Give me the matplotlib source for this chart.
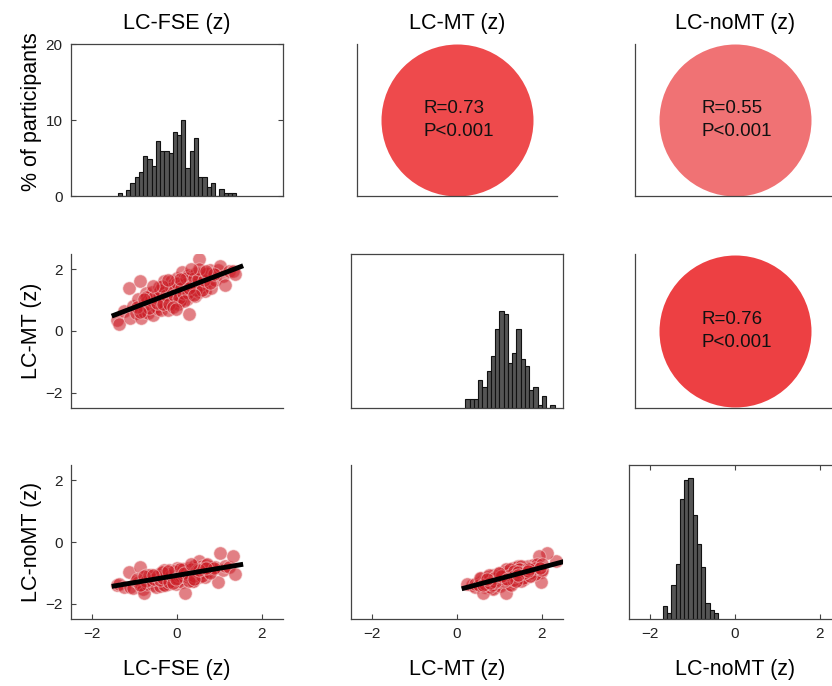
import numpy as np
import matplotlib.pyplot as plt

plt.rcParams['font.family'] = ['Liberation Sans', 'DejaVu Sans']

# z-scores per participant, estimated from the scatter clouds
lc_fse = [-1.42, -1.37, -1.25, -1.14, -1.10, -1.03, -0.97, -0.93, -0.88, -0.85,
          -0.80, -0.77, -0.74, -0.70, -0.68, -0.64, -0.61, -0.58, -0.56, -0.53,
          -0.50, -0.48, -0.45, -0.43, -0.41, -0.38, -0.36, -0.34, -0.31, -0.29,
          -0.27, -0.25, -0.22, -0.20, -0.18, -0.16, -0.14, -0.12, -0.10, -0.08,
          -0.06, -0.04, -0.02, 0.00, 0.02, 0.03, 0.05, 0.07, 0.09, 0.11,
          0.12, 0.14, 0.16, 0.18, 0.20, 0.22, 0.24, 0.26, 0.28, 0.30,
          0.33, 0.35, 0.38, 0.40, 0.43, 0.45, 0.48, 0.51, 0.53, 0.56,
          0.59, 0.62, 0.66, 0.69, 0.73, 0.77, 0.81, 0.86, 0.90, 0.96,
          1.02, 1.08, 1.14, 1.22, 1.31, 1.36, -0.30, -0.15, 0.01, 0.13,
          0.25, 0.37, -0.62, 0.55, -0.05, 0.19, -0.42, 0.47, 0.08, -0.24,
          -0.95, -0.72, -0.66, -0.55, -0.47, -0.40, -0.33, -0.26, -0.19, -0.13,
          -0.07, -0.01, 0.04, 0.10, 0.15, 0.21, 0.27, 0.32, 0.39, 0.44,
          0.50, 0.58, 0.64, 0.71, 0.79, 0.88, -0.87, -0.78, -0.35, -0.09,
          0.06, 0.17, 0.29, 0.41, 0.52, -0.57, -0.21, 0.34, -0.03, 0.68]
lc_mt = [0.36, 0.23, 0.65, 1.39, 0.42, 0.82, 0.59, 1.03, 1.62, 0.42,
         0.85, 0.62, 1.23, 0.98, 0.57, 1.14, 0.85, 1.27, 0.53, 1.03,
         0.79, 1.20, 0.71, 1.42, 1.01, 0.67, 1.22, 0.95, 1.62, 0.83,
         1.19, 1.42, 0.67, 1.18, 1.42, 1.00, 1.61, 0.87, 1.34, 1.12,
         1.56, 1.00, 1.25, 1.72, 0.87, 1.46, 1.15, 1.58, 1.24, 1.90,
         1.05, 1.44, 1.71, 1.16, 1.40, 1.61, 1.05, 1.83, 0.55, 1.56,
         1.32, 1.78, 1.25, 1.68, 1.13, 1.89, 1.52, 1.27, 2.34, 1.65,
         1.44, 1.88, 1.30, 1.80, 1.62, 1.98, 1.41, 1.86, 1.66, 1.99,
         2.12, 1.78, 1.50, 1.96, 1.94, 1.85, 1.28, 1.21, 1.10, 1.56,
         1.28, 1.52, 1.00, 1.49, 1.33, 1.52, 1.13, 1.60, 0.98, 1.09,
         0.77, 1.12, 0.76, 1.10, 0.92, 1.32, 0.88, 1.18, 0.89, 1.39,
         1.18, 1.55, 1.06, 1.40, 1.24, 1.72, 1.24, 1.47, 1.71, 1.34,
         1.70, 1.34, 1.67, 1.88, 1.57, 1.84, 0.62, 1.03, 1.45, 0.79,
         1.69, 0.98, 1.40, 1.17, 2.01, 1.45, 1.67, 2.01, 0.70, 1.96]
lc_nomt = [-1.40, -1.36, -1.47, -0.98, -1.46, -1.48, -1.25, -1.31, -0.82, -1.37,
           -1.53, -1.64, -1.08, -1.35, -1.18, -1.21, -1.07, -1.28, -1.41, -1.10,
           -1.47, -1.13, -1.15, -1.14, -1.44, -1.23, -0.96, -1.23, -0.91, -1.38,
           -1.23, -1.02, -1.37, -0.91, -1.22, -1.09, -1.02, -1.26, -1.26, -0.98,
           -1.09, -1.13, -1.37, -0.84, -1.27, -1.15, -0.89, -1.21, -1.03, -0.90,
           -1.31, -0.89, -1.09, -1.64, -0.94, -1.15, -1.03, -0.84, -1.16, -1.08,
           -0.85, -0.95, -1.28, -0.78, -1.09, -1.00, -0.80, -1.14, -0.63, -1.00,
           -0.78, -0.96, -1.15, -0.74, -0.95, -0.98, -0.81, -0.87, -0.82, -1.31,
           -0.36, -0.90, -0.78, -0.82, -0.44, -1.04, -1.41, -1.15, -1.07, -0.95,
           -1.13, -1.27, -1.22, -0.88, -1.17, -0.97, -1.04, -0.98, -1.00, -1.08,
           -1.21, -1.27, -1.08, -1.21, -1.10, -1.24, -1.17, -1.00, -1.30, -1.06,
           -0.95, -1.18, -1.11, -1.10, -0.89, -1.02, -1.07, -0.87, -1.10, -0.95,
           -0.88, -1.12, -0.86, -0.73, -1.00, -0.85, -1.39, -1.11, -0.99, -1.34,
           -0.88, -1.02, -1.26, -1.19, -0.90, -1.08, -0.93, -0.73, -1.19, -0.86]

# histograms: % of participants in 0.1-wide bins
bin_width = 0.1
fse_bin_start = -1.4
fse_pct = [0.44, 0, 0.79, 1.67, 2.46, 3.2, 5.26, 4.82, 3.95, 7.24, 5.96, 5.96, 5.61, 8.42,
           8.03, 10.0, 3.64, 5.96, 7.59, 2.46, 2.46, 1.23, 1.75, 0, 0.88, 0.44, 0.44, 0.44]
mt_bin_start = 0.2
mt_pct = [1.17, 1.17, 1.17, 3.6, 2.7, 4.76, 6.7, 10.3, 12.6, 12.2, 5.9, 7.1, 10.2, 6.3,
          5.5, 2.4, 2.7, 0.43, 1.6, 0, 0.43]
nomt_bin_start = -1.7
nomt_pct = [1.66, 0.79, 4.4, 7.2, 15.6, 18.0, 18.3, 13.5, 9.7, 6.8, 2.05, 1.22, 0.79]

names = ['LC-FSE (z)', 'LC-MT (z)', 'LC-noMT (z)']
corr_r = [0.73, 0.55, 0.76]       # FSE-MT, FSE-noMT, MT-noMT
corr_p = ['<0.001', '<0.001', '<0.001']
circle_colors = ['#ee4a4c', '#f07274', '#ed4043']

W, H = 832, 686
fig = plt.figure(figsize=(W / 100, H / 100), dpi=100)

col_left = [71, 351, 629]
col_w = 212
row_top = [44, 254, 465]
row_h = [152, 154, 154]
axis_col = '#444444'


def add_ax(r, c, inset=0):
    return fig.add_axes([(col_left[c] + inset) / W, (H - row_top[r] - row_h[r]) / H,
                         (col_w - 2 * inset) / W, row_h[r] / H])


def style(ax, box):
    for s in ax.spines.values():
        s.set_color(axis_col)
        s.set_linewidth(0.9)
    if not box:
        ax.spines['top'].set_visible(False)
        ax.spines['right'].set_visible(False)
    ax.tick_params(direction='in', length=3.5, width=0.8, color=axis_col,
                   labelsize=11, labelcolor='#222222', pad=6)
    ax.set_xticks([])
    ax.set_yticks([])


data = [lc_fse, lc_mt, lc_nomt]
hists = [(fse_bin_start, fse_pct), (mt_bin_start, mt_pct), (nomt_bin_start, nomt_pct)]
circ = {(0, 1): 0, (0, 2): 1, (1, 2): 2}

for r in range(3):
    for c in range(3):
        if r == c:
            ax = add_ax(r, c)
            style(ax, True)
            start, pct = hists[c]
            edges = start + bin_width * np.arange(len(pct))
            ax.bar(edges, pct, width=bin_width, align='edge', color='#555555',
                   edgecolor='#111111', linewidth=0.8)
            ax.set_xlim(-2.5, 2.5)
            ax.set_ylim(0, 20)
        elif r > c:
            ax = add_ax(r, c)
            style(ax, False)
            x = np.array(data[c])
            y = np.array(data[r])
            ax.scatter(x, y, s=90, color='#cc1e27', alpha=0.57,
                       edgecolors='#f6d0d0', linewidths=0.7, zorder=2)
            k, b = np.polyfit(x, y, 1)
            xl = np.array([x.min() - 0.12, x.max() + 0.2])
            ax.plot(xl, k * xl + b, color='black', lw=3.5, zorder=3,
                    solid_capstyle='butt')
            ax.set_xlim(-2.5, 2.5)
            ax.set_ylim(-2.5, 2.5)
        else:
            ax = add_ax(r, c, inset=6)
            style(ax, False)
            i = circ[(r, c)]
            ax.set_xlim(-2.5, 2.5)
            ax.set_ylim(-1, 1)
            ax.scatter([0], [0], s=(152 * 0.72) ** 2, color=circle_colors[i],
                       linewidths=0, clip_on=False)
            ax.text(-0.84, 0.0, f'R={corr_r[i]:.2f}\nP{corr_p[i]}', ha='left',
                    va='center', fontsize=13.5, linespacing=1.45, color='#111111')

        if c == 0:
            if r == 0:
                ax.set_yticks([0, 10, 20])
                ax.tick_params(axis='y', right=True)
            else:
                ax.set_yticks([-2, 0, 2])
        if r == 2:
            ax.set_xticks([-2, 0, 2])
            if c == 2:
                ax.tick_params(axis='x', top=True)

centers_x = [177, 457, 735]
for c in range(3):
    fig.text(centers_x[c] / W, 1 - 23 / H, names[c], ha='center', va='center', fontsize=15.5)
    fig.text(centers_x[c] / W, 1 - 669 / H, names[c], ha='center', va='center', fontsize=15.5)

ylabels = ['% of participants', names[1], names[2]]
ylab_y = [112, 331, 542]
for r in range(3):
    fig.text(32 / W, 1 - ylab_y[r] / H, ylabels[r], rotation=90, ha='center',
             va='center', fontsize=15.5)

fig.savefig('out.png', dpi=100)
